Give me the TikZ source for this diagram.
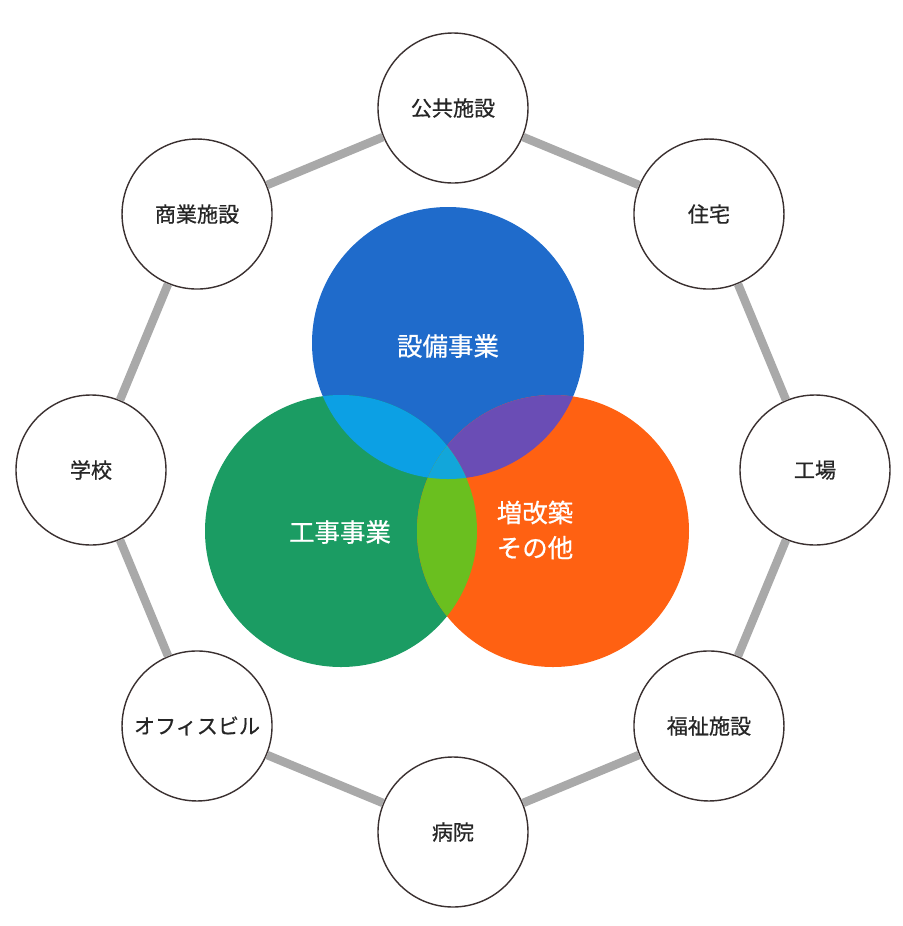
\documentclass[tikz,border=0pt]{standalone}
\usepackage{fontspec}
\setmainfont{Noto Sans CJK JP}[FakeBold=0.6]
\usetikzlibrary{positioning,calc}
\definecolor{ringgray}{HTML}{A9A9A9}
\definecolor{edge}{HTML}{3A3030}
\definecolor{setsubi}{HTML}{1F6BCB}
\definecolor{kouji}{HTML}{1B9C63}
\definecolor{zoukai}{HTML}{FF6112}
\definecolor{skyblue}{HTML}{0CA0E4}
\definecolor{violet}{HTML}{6A4DB5}
\definecolor{lime}{HTML}{6ABF1F}
\definecolor{midblue}{HTML}{12A6DA}
\tikzset{
  place/.style={circle, draw=edge, thick, fill=white, minimum size=3cm, inner sep=0pt, font=\fontsize{12}{14}\selectfont, text=black!85},
  fieldtext/.style={text=white, align=center, font=\fontsize{14.5}{20}\selectfont},
  ring/.style={line width=1.7mm, draw=ringgray}
}
\begin{document}
\begin{tikzpicture}
  \useasboundingbox (0,0) rectangle (18.06,-18.52);
  \coordinate (c) at (9.06,-9.40);
  % outer places
  \node[place] (public)   at ($(c)+(90:7.24)$)  {公共施設};
  \node[place] (house)    at ($(c)+(45:7.24)$)  {住宅};
  \node[place] (factory)  at ($(c)+(0:7.24)$)   {工場};
  \node[place] (welfare)  at ($(c)+(-45:7.24)$) {福祉施設};
  \node[place] (hospital) at ($(c)+(-90:7.24)$) {病院};
  \node[place] (office)   at ($(c)+(-135:7.24)$){オフィスビル};
  \node[place] (school)   at ($(c)+(180:7.24)$) {学校};
  \node[place] (shop)     at ($(c)+(135:7.24)$) {商業施設};
  % ring
  \draw[ring] (public) -- (house);
  \draw[ring] (house) -- (factory);
  \draw[ring] (factory) -- (welfare);
  \draw[ring] (welfare) -- (hospital);
  \draw[ring] (hospital) -- (office);
  \draw[ring] (office) -- (school);
  \draw[ring] (school) -- (shop);
  \draw[ring] (shop) -- (public);
  % venn
  \coordinate (b) at (8.96,-6.86);
  \coordinate (g) at (6.82,-10.62);
  \coordinate (o) at (11.06,-10.62);
  \fill[setsubi] (b) circle (2.72);
  \fill[kouji] (g) circle (2.72);
  \fill[zoukai] (o) circle (2.72);
  \begin{scope}
    \clip (b) circle (2.72);
    \fill[skyblue] (g) circle (2.72);
    \fill[violet] (o) circle (2.72);
  \end{scope}
  \begin{scope}
    \clip (g) circle (2.72);
    \fill[lime] (o) circle (2.72);
    \clip (o) circle (2.72);
    \fill[midblue] (b) circle (2.72);
  \end{scope}
  \node[fieldtext] (equip) at (8.96,-6.92) {設備事業};
  \node[fieldtext] (works) at (6.80,-10.64) {工事事業};
  \node[fieldtext] (other) at (10.70,-10.60) {増改築\\その他};
\end{tikzpicture}
\end{document}
